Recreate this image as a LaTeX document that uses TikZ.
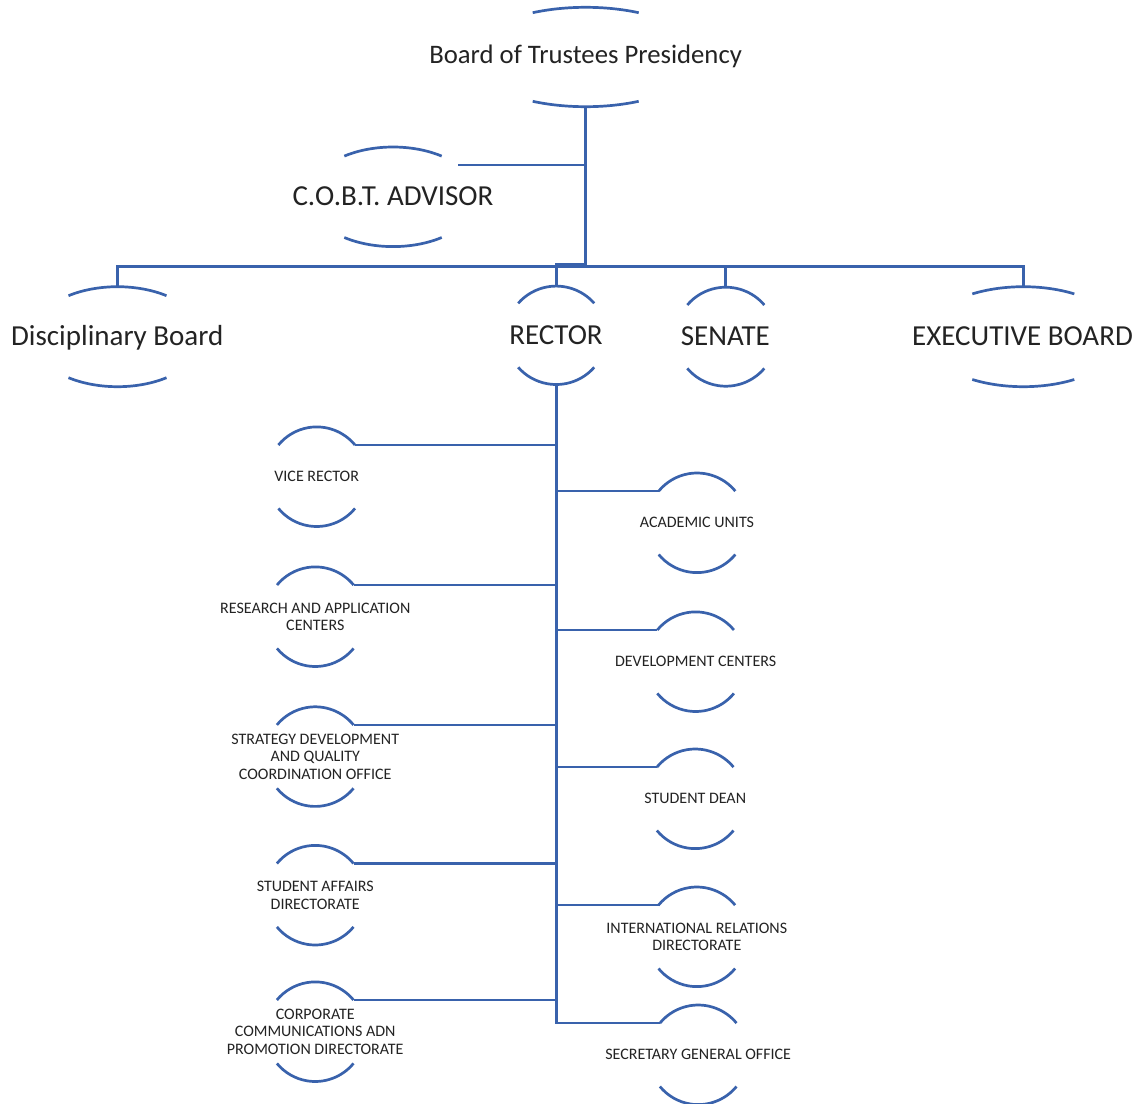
\documentclass[tikz,border=0pt]{standalone}
\usepackage{fontspec}
\setmainfont{Carlito}
\definecolor{orgblue}{RGB}{57,98,172}
\definecolor{txtgray}{RGB}{35,35,35}
\newcommand\orgunit[6]{%
  \pgfmathsetmacro\tz{asin(#6/#5)}%
  \pgfmathsetmacro\ra{#4/cos(\tz)}%
  \draw[unitarc] (#2,#3) ++(\tz:\ra\space and #5) arc[start angle=\tz, end angle=180-\tz, x radius=\ra, y radius=#5];
  \draw[unitarc] (#2,#3) ++(-\tz:\ra\space and #5) arc[start angle=-\tz, end angle=-180+\tz, x radius=\ra, y radius=#5];
  \coordinate (#1-top) at (#2,#3-#5);
  \coordinate (#1-bot) at (#2,#3+#5);
  \coordinate (#1-tl) at (#2-#4,#3-#6);
  \coordinate (#1-tr) at (#2+#4,#3-#6);
}
\tikzset{
  orgline/.style={draw=orgblue, line width=2.7pt},
  unitarc/.style={orgline},
  bigtext/.style={font=\fontsize{29}{35}\selectfont, text=txtgray, inner sep=0pt, text height=18.7pt, text depth=0pt},
  boardtext/.style={font=\fontsize{26.7}{32}\selectfont, text=txtgray, inner sep=0pt, text height=17.2pt, text depth=0pt},
  smalltext/.style={font=\fontsize{16}{17.6}\selectfont, text=txtgray, inner sep=0pt, align=center},
}
\begin{document}
\begin{tikzpicture}[x=1pt, y=-1pt]
\useasboundingbox[fill=white] (0,0) rectangle (1143,1103);
% top level units
\orgunit{board}{585.7}{57}{53}{49.7}{44.3}
\orgunit{cobt}{393}{196.8}{48.7}{49.8}{40.7}
\orgunit{disc}{117.5}{336.7}{49}{50}{41}
\orgunit{rector}{556.2}{335.3}{38}{49.2}{32}
\orgunit{senate}{725.8}{336.7}{38.5}{49.5}{31.7}
\orgunit{exec}{1023.3}{336.7}{51}{50}{42.8}
% lower units
\orgunit{vice}{316.7}{476.7}{38.3}{49.8}{31.7}
\orgunit{research}{315.3}{616.7}{38.3}{49.8}{31.7}
\orgunit{strategy}{315.2}{756.6}{38.3}{49.8}{31.7}
\orgunit{affairs}{315.2}{895.2}{38.3}{49.8}{31.7}
\orgunit{corporate}{315.2}{1031.7}{38.3}{49.8}{31.7}
\orgunit{academic}{697}{522.8}{38.3}{49.8}{31.7}
\orgunit{develop}{695.6}{661.7}{38.3}{49.8}{31.7}
\orgunit{dean}{695.2}{798.8}{38.3}{49.8}{31.7}
\orgunit{intl}{696.8}{936.8}{38.3}{49.8}{31.7}
\orgunit{secretary}{698.2}{1054.8}{38.3}{49.8}{31.7}
% texts
\node[boardtext] (board) at (585.6,55) {Board of Trustees Presidency};
\node[bigtext] (cobt) at (393,196) {C.O.B.T. ADVISOR};
\node[bigtext] (disc) at (117.3,336.2) {Disciplinary Board};
\node[bigtext] (rector) at (556,335.2) {RECTOR};
\node[bigtext] (senate) at (725.3,335.8) {SENATE};
\node[bigtext] (exec) at (1022.5,335.8) {EXECUTIVE BOARD};
\node[smalltext] (vice) at (316.7,476.7) {VICE RECTOR};
\node[smalltext] (research) at (315.3,616.7) {RESEARCH AND APPLICATION\\CENTERS};
\node[smalltext] (strategy) at (315.2,756.6) {STRATEGY DEVELOPMENT\\AND QUALITY\\COORDINATION OFFICE};
\node[smalltext] (affairs) at (315.2,895.2) {STUDENT AFFAIRS\\DIRECTORATE};
\node[smalltext] (corporate) at (315.2,1031.7) {CORPORATE\\COMMUNICATIONS ADN\\PROMOTION DIRECTORATE};
\node[smalltext] (academic) at (697,522.8) {ACADEMIC UNITS};
\node[smalltext] (develop) at (695.6,661.7) {DEVELOPMENT CENTERS};
\node[smalltext] (dean) at (695.2,798.8) {STUDENT DEAN};
\node[smalltext] (intl) at (696.8,936.8) {INTERNATIONAL RELATIONS\\DIRECTORATE};
\node[smalltext] (secretary) at (698.2,1054.8) {SECRETARY GENERAL OFFICE};
% connectors, upper part
\coordinate (hub) at (585.3,266.6);
\coordinate (hubR) at (585.3,264.8);
\coordinate (cobtE) at (458,165);
\draw[orgline] (board-bot -| hub) -- (hub);
\draw[orgline] (cobtE) -- (cobtE -| hub);
\draw[orgline] (disc-top) |- (hub) -| (exec-top);
\draw[orgline] (senate-top) -- (senate-top |- hub);
\draw[orgline] (rector-top) |- (hubR);
% connectors, lower part
\draw[orgline] (rector-bot) |- (secretary-tl);
\foreach \u in {vice,research,strategy,affairs,corporate}
  \draw[orgline] (\u-tr) -- (\u-tr -| rector-bot);
\foreach \u in {academic,develop,dean,intl}
  \draw[orgline] (\u-tl) -- (\u-tl -| rector-bot);
\end{tikzpicture}
\end{document}
